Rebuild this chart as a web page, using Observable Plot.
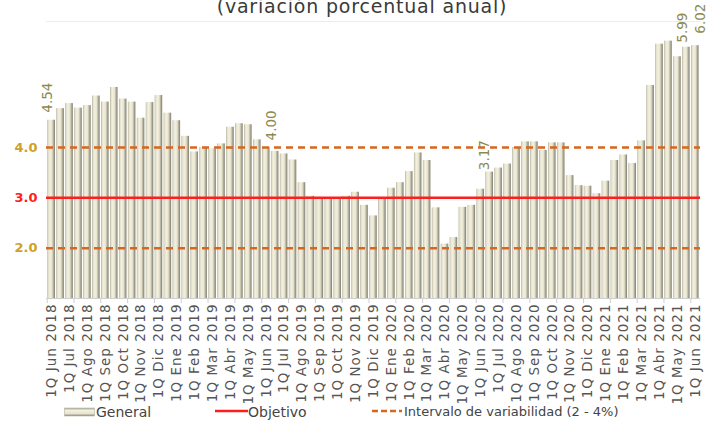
<!DOCTYPE html>
<html><head><meta charset="utf-8">
<script src="https://cdn.jsdelivr.net/npm/d3@7"></script>
<script src="https://cdn.jsdelivr.net/npm/@observablehq/plot@0.6"></script>
<style>
body{margin:0;background:#fff;width:718px;height:426px;overflow:hidden;position:relative;font-family:"DejaVu Sans",sans-serif;}
#title{position:absolute;top:-5px;left:0;width:718px;text-align:center;font-size:19px;letter-spacing:0.8px;color:#3a3a3a;padding-left:6px;box-sizing:border-box;white-space:nowrap}
#chart{position:absolute;top:0;left:0}
.lg{position:absolute;font-size:13px;color:#444;top:404px;white-space:nowrap}
</style>
</head><body>
<div id="title">(variación porcentual anual)</div>
<div id="chart"></div>
<div id="legend"></div>
<script>
const periods = [
"1Q Jun 2018","2Q Jun 2018","1Q Jul 2018","2Q Jul 2018","1Q Ago 2018","2Q Ago 2018","1Q Sep 2018","2Q Sep 2018","1Q Oct 2018","2Q Oct 2018","1Q Nov 2018","2Q Nov 2018","1Q Dic 2018","2Q Dic 2018",
"1Q Ene 2019","2Q Ene 2019","1Q Feb 2019","2Q Feb 2019","1Q Mar 2019","2Q Mar 2019","1Q Abr 2019","2Q Abr 2019","1Q May 2019","2Q May 2019","1Q Jun 2019","2Q Jun 2019","1Q Jul 2019","2Q Jul 2019","1Q Ago 2019","2Q Ago 2019","1Q Sep 2019","2Q Sep 2019","1Q Oct 2019","2Q Oct 2019","1Q Nov 2019","2Q Nov 2019","1Q Dic 2019","2Q Dic 2019",
"1Q Ene 2020","2Q Ene 2020","1Q Feb 2020","2Q Feb 2020","1Q Mar 2020","2Q Mar 2020","1Q Abr 2020","2Q Abr 2020","1Q May 2020","2Q May 2020","1Q Jun 2020","2Q Jun 2020","1Q Jul 2020","2Q Jul 2020","1Q Ago 2020","2Q Ago 2020","1Q Sep 2020","2Q Sep 2020","1Q Oct 2020","2Q Oct 2020","1Q Nov 2020","2Q Nov 2020","1Q Dic 2020","2Q Dic 2020",
"1Q Ene 2021","2Q Ene 2021","1Q Feb 2021","2Q Feb 2021","1Q Mar 2021","2Q Mar 2021","1Q Abr 2021","2Q Abr 2021","1Q May 2021","2Q May 2021","1Q Jun 2021"
];
const general = [
4.54,4.77,4.87,4.78,4.83,5.02,4.90,5.19,4.96,4.90,4.58,4.89,5.03,4.68,
4.53,4.22,3.91,4.00,3.97,4.07,4.40,4.47,4.45,4.15,4.00,3.92,3.87,3.75,3.30,3.03,3.00,3.00,3.00,3.03,3.11,2.85,2.64,3.00,
3.19,3.30,3.52,3.89,3.74,2.80,2.08,2.21,2.81,2.85,3.17,3.51,3.59,3.67,4.00,4.11,4.11,3.94,4.09,4.09,3.44,3.24,3.23,3.08,
3.33,3.74,3.85,3.68,4.13,5.23,6.05,6.11,5.80,5.99,6.02
];
const objetivo = 3;
const intervalo = [2, 4];
const yTickValues = [2, 3, 4];
const labelPeriods = ["1Q Jun 2018","1Q Jun 2019","1Q Jun 2020","2Q May 2021","1Q Jun 2021"];
const labelValues = [4.54, 4.00, 3.17, 5.99, 6.02];

const data = periods.map((p, i) => ({period: p, value: general[i]}));
const labels = labelPeriods.map((p, i) => ({period: p, value: labelValues[i]}));
const nudges = [[-4,-7.5],[5,-7],[4,-19],[-4,-4.5],[5,-12]];
const firstQ = periods.filter(p => p.startsWith("1Q"));
const tickPeriods = periods.filter((p, i) => i % 3 === 0);

const plot = Plot.plot({
  width: 718, height: 398,
  marginTop: 21, marginBottom: 100, marginLeft: 46, marginRight: 18,
  style: {background: "transparent", fontFamily: "DejaVu Sans, sans-serif", overflow: "visible"},
  x: {type: "band", domain: periods, padding: 0.16, axis: null},
  y: {domain: [1, 6.5], axis: null},
  marks: [
    Plot.ruleY([6.5], {stroke: "#ececec", strokeWidth: 1}),
    Plot.barY(data, {x: "period", y1: 1, y2: "value", fill: "url(#cyl)"}),
    Plot.ruleY([1], {stroke: "#cfcfcf", strokeWidth: 1}),
    Plot.ruleX(tickPeriods, {x: d => d, y1: 1, y2: 0.9, dx: -4.5, stroke: "#cfcfcf"}),
    Plot.ruleY(intervalo, {stroke: "#d5671f", strokeWidth: 2.5, strokeDasharray: "7,5"}),
    Plot.ruleY([objetivo], {stroke: "#ff1e1e", strokeWidth: 2.5}),
    Plot.text(yTickValues.filter(v => v !== objetivo), {y: d => d, frameAnchor: "left", textAnchor: "end", dx: -9, text: d => d.toFixed(1), fill: "#cfa126", fontWeight: "bold", fontSize: 13}),
    Plot.text([objetivo], {y: d => d, frameAnchor: "left", textAnchor: "end", dx: -9, text: d => d.toFixed(1), fill: "#ff1e1e", fontWeight: "bold", fontSize: 13}),
    Plot.axisX({ticks: firstQ, tickRotate: -90, tickSize: 0, tickPadding: 5, fontSize: 13.5, fill: "#555", anchor: "bottom", label: null}),
    ...labels.map((d, i) => Plot.text([d], {x: "period", y: "value", text: d => d.value.toFixed(2), rotate: -90, textAnchor: "start", dx: nudges[i][0], dy: nudges[i][1], fill: "#8d8a50", fontSize: 13.5}))
  ]
});

d3.select(plot).selectAll("g[aria-label='x-axis tick label'] text").attr("letter-spacing", "1px");

const defs = d3.select(plot).insert("defs", ":first-child");
const grad = defs.append("linearGradient").attr("id", "cyl").attr("x1", "0").attr("x2", "1").attr("y1", "0").attr("y2", "0");
[[0, "#a9a795"], [0.12, "#e2dec9"], [0.35, "#f3f0df"], [0.6, "#e8e4cf"], [0.8, "#b2b09e"], [1, "#7c7a6c"]]
  .forEach(([o, c]) => grad.append("stop").attr("offset", o).attr("stop-color", c));
document.getElementById("chart").appendChild(plot);

const lg = document.getElementById("legend");
lg.innerHTML = `
<svg style="position:absolute;left:64px;top:407px" width="31" height="10">
  <defs><linearGradient id="lgg" x1="0" x2="0" y1="0" y2="1"><stop offset="0" stop-color="#a9a795"/><stop offset="0.3" stop-color="#f3f0df"/><stop offset="0.7" stop-color="#e8e4cf"/><stop offset="1" stop-color="#8a887a"/></linearGradient></defs>
  <rect x="0.5" y="1" width="30" height="8" fill="url(#lgg)" stroke="#b5b3a1" stroke-width="0.6"/></svg>
<div class="lg" style="left:96px;font-size:14px">General</div>
<svg style="position:absolute;left:215px;top:406px" width="33" height="10"><line x1="0" x2="33" y1="5" y2="5" stroke="#ff1e1e" stroke-width="2.5"/></svg>
<div class="lg" style="left:248px;font-size:14px">Objetivo</div>
<svg style="position:absolute;left:372px;top:406px" width="30" height="10"><line x1="0" x2="30" y1="5" y2="5" stroke="#d5671f" stroke-width="2.5" stroke-dasharray="6,3"/></svg>
<div class="lg" style="left:404px">Intervalo de variabilidad (2 - 4%)</div>`;
</script>
</body></html>
